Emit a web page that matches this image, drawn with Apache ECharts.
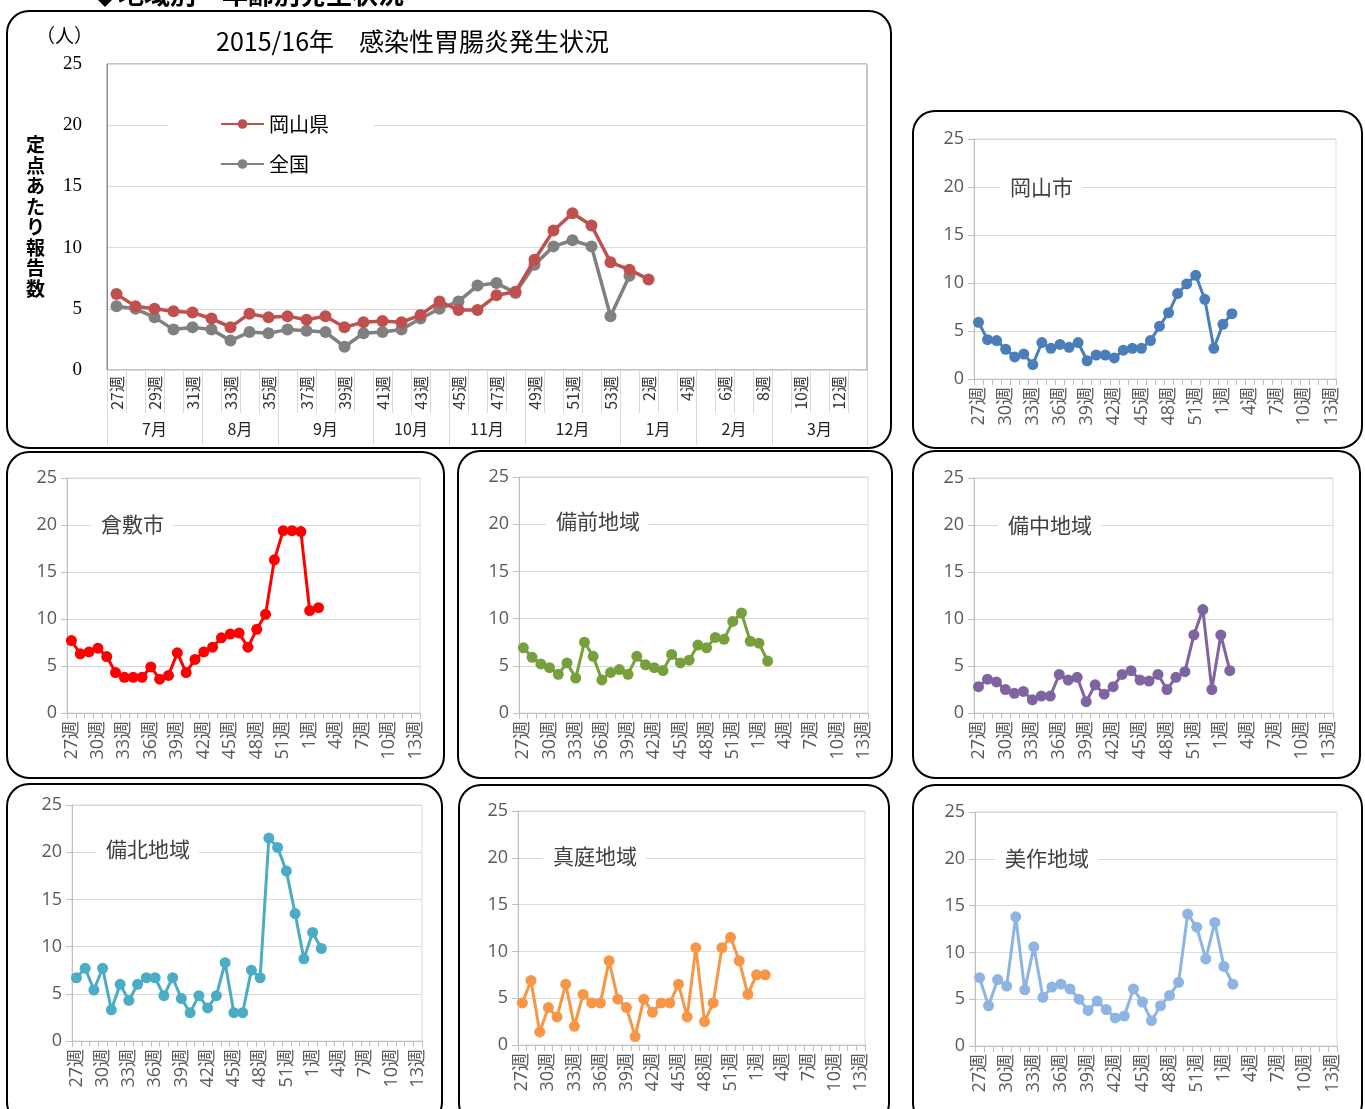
<!DOCTYPE html>
<html><head><meta charset="utf-8">
<script src="https://cdn.jsdelivr.net/npm/echarts@6/dist/echarts.min.js"></script>
<style>html,body{margin:0;padding:0;background:#fff;overflow:hidden;}#c{width:1365px;height:1109px;}</style>
</head><body><div id="c"></div><script>
// ---------- data ----------
const weeks = ['27週','28週','29週','30週','31週','32週','33週','34週','35週','36週',
  '37週','38週','39週','40週','41週','42週','43週','44週','45週','46週',
  '47週','48週','49週','50週','51週','52週','53週','1週','2週','3週',
  '4週','5週','6週','7週','8週','9週','10週','11週','12週','13週'];
const months = ['7月','8月','9月','10月','11月','12月','1月','2月','3月'];
const monthWeekCounts = [5,4,5,4,4,5,4,4,5];
const okayamaPref = [6.2,5.2,5.0,4.8,4.7,4.2,3.5,4.6,4.3,4.4,4.1,4.4,3.5,3.9,4.0,3.9,4.5,5.6,4.9,4.9,6.1,6.4,9.0,11.4,12.8,11.8,8.8,8.2,7.4];
const national = [5.2,5.0,4.3,3.3,3.5,3.3,2.4,3.1,3.0,3.3,3.2,3.1,1.9,3.0,3.1,3.3,4.2,5.0,5.6,6.9,7.1,6.3,8.6,10.1,10.6,10.1,4.4,7.7];
const okayamaCity = [5.9,4.1,4.0,3.1,2.3,2.6,1.5,3.8,3.2,3.6,3.3,3.8,1.9,2.5,2.5,2.2,3.0,3.2,3.2,4.0,5.5,6.9,8.9,9.9,10.8,8.3,3.2,5.7,6.8];
const kurashiki = [7.7,6.3,6.5,6.9,6.0,4.3,3.8,3.8,3.8,4.9,3.6,4.0,6.4,4.3,5.7,6.5,7.0,8.0,8.4,8.5,7.0,8.9,10.5,16.3,19.4,19.4,19.3,10.9,11.2];
const bizen = [6.9,5.9,5.2,4.8,4.1,5.3,3.7,7.5,6.0,3.5,4.3,4.6,4.1,6.0,5.1,4.8,4.5,6.2,5.3,5.6,7.2,6.9,8.0,7.8,9.7,10.6,7.6,7.4,5.5];
const bicchu = [2.8,3.6,3.3,2.5,2.1,2.3,1.4,1.8,1.8,4.1,3.5,3.8,1.2,3.0,2.0,2.8,4.1,4.5,3.5,3.4,4.1,2.5,3.8,4.4,8.3,11.0,2.5,8.3,4.5];
const bihoku = [6.7,7.7,5.4,7.7,3.3,6.0,4.3,6.0,6.7,6.7,4.8,6.7,4.5,3.0,4.8,3.5,4.8,8.3,3.0,3.0,7.5,6.7,21.5,20.5,18.0,13.5,8.7,11.5,9.8];
const maniwa = [4.5,6.9,1.4,4.0,3.0,6.5,2.0,5.4,4.5,4.5,9.0,4.9,4.0,0.9,4.9,3.5,4.5,4.5,6.5,3.0,10.4,2.5,4.5,10.4,11.5,9.0,5.4,7.5,7.5];
const mimasaka = [7.3,4.3,7.1,6.4,13.8,6.0,10.6,5.2,6.3,6.6,6.1,5.0,3.8,4.8,3.9,3.0,3.2,6.1,4.7,2.7,4.3,5.4,6.8,14.1,12.7,9.3,13.2,8.5,6.6];
const mainTitle = '2015/16年　感染性胃腸炎発生状況';
const headerText = '◆地域別・年齢別発生状況';
const yName = '定点あたり報告数';
const unitText = '（人）';

// ---------- month axis (half-week resolution) ----------
const monthAxisData = new Array(81).fill('');
const monthBoundaries = new Set();
let pos = 0;
months.forEach((m, i) => {
  const s = pos * 2, e = (pos + monthWeekCounts[i]) * 2;
  monthBoundaries.add(s);
  monthAxisData[(s + e) / 2] = m;
  pos += monthWeekCounts[i];
});
monthBoundaries.add(pos * 2);

// ---------- layout ----------
const panels = [
  {name:'岡山市', data: okayamaCity, color:'#4a7ebb', grid:[974,139,362,240], title:[1000,172]},
  {name:'倉敷市', data: kurashiki, color:'#ff0000', grid:[67,478,353,235], title:[91,509]},
  {name:'備前地域', data: bizen, color:'#77a03c', grid:[519,477,349,236], title:[546,506]},
  {name:'備中地域', data: bicchu, color:'#8064a2', grid:[974,478,359,235], title:[998,510]},
  {name:'備北地域', data: bihoku, color:'#4bacc6', grid:[72,805,350,236], title:[96,834]},
  {name:'真庭地域', data: maniwa, color:'#f79646', grid:[518,811,347,234], title:[543,841]},
  {name:'美作地域', data: mimasaka, color:'#8db4e2', grid:[975,812,362,234], title:[995,843]}
];
const borders = [
  [7,11,884,437],[913,111,449,337],[7,452,437,326],[458,451,434,327],[913,451,447,327],
  [7,784,435,340],[459,785,430,340],[913,785,449,340]
];
const cjk = "'Noto Sans CJK JP', sans-serif";
const latin = "'Open Sans','Noto Sans CJK JP', sans-serif";

const grids = [{left:107, top:64, width:760, height:306, show:true, borderColor:'#8c8c8c', borderWidth:1}];
const xAxes = [
  {type:'category', gridIndex:0, data:weeks, boundaryGap:true,
   axisLine:{lineStyle:{color:'#d9d9d9'}},
   axisTick:{show:true, interval:0, length:43, lineStyle:{color:'#d9d9d9'}},
   axisLabel:{interval:1, rotate:90, fontSize:16, color:'#333', fontFamily:cjk, margin:6}},
  {type:'category', gridIndex:0, data:monthAxisData, boundaryGap:false, position:'bottom', offset:43,
   axisLine:{show:false},
   axisTick:{show:true, interval:(i)=>monthBoundaries.has(i), length:32, lineStyle:{color:'#d9d9d9'}},
   axisLabel:{interval:0, fontSize:16, color:'#222', fontFamily:cjk, margin:8}}
];
const yAxes = [
  {type:'value', gridIndex:0, min:0, max:25, interval:5,
   name: yName.split('').join('\n'), nameLocation:'middle', nameRotate:0, nameGap:62,
   nameTextStyle:{fontSize:19, fontWeight:'bold', color:'#000', fontFamily:cjk, lineHeight:20.5},
   axisLine:{show:true, lineStyle:{color:'#8c8c8c'}}, axisTick:{show:false},
   axisLabel:{fontSize:19, color:'#000', fontFamily:"'Liberation Serif', serif", margin:25},
   splitLine:{lineStyle:{color:'#d9d9d9'}}}
];
const series = [
  {name:'岡山県', type:'line', xAxisIndex:0, yAxisIndex:0, data:okayamaPref, symbol:'circle', symbolSize:12, showAllSymbol:true,
   lineStyle:{width:3.5, color:'#c0504d'}, itemStyle:{color:'#c0504d'}, z:3},
  {name:'全国', type:'line', xAxisIndex:0, yAxisIndex:0, data:national, symbol:'circle', symbolSize:12, showAllSymbol:true,
   lineStyle:{width:3.5, color:'#808080'}, itemStyle:{color:'#808080'}, z:2}
];
const titles = [{text: mainTitle, left:211, top:24, textStyle:{fontSize:25, fontWeight:'normal', color:'#000', fontFamily:cjk}}];

panels.forEach((p, i) => {
  const [l,t,w,h] = p.grid;
  grids.push({left:l, top:t, width:w, height:h, show:true, borderColor:'#d9d9d9', borderWidth:1});
  xAxes.push({type:'category', gridIndex:i+1, data:weeks, boundaryGap:true,
    axisLine:{lineStyle:{color:'#bfbfbf'}},
    axisTick:{show:true, interval:0, length:6, lineStyle:{color:'#bfbfbf'}},
    axisLabel:{interval:2, rotate:90, fontSize:18, color:'#595959', fontFamily:latin, margin:8}});
  yAxes.push({type:'value', gridIndex:i+1, min:0, max:25, interval:5,
    axisLine:{show:true, lineStyle:{color:'#bfbfbf'}},
    axisTick:{show:true, length:6, lineStyle:{color:'#bfbfbf'}},
    axisLabel:{fontSize:18, color:'#595959', fontFamily:latin, margin:10},
    splitLine:{lineStyle:{color:'#d9d9d9'}}});
  series.push({name:p.name, type:'line', xAxisIndex:i+2, yAxisIndex:i+1, data:p.data, symbol:'circle', symbolSize:11,
    showAllSymbol:true, lineStyle:{width:3, color:p.color}, itemStyle:{color:p.color}});
  titles.push({text:p.name, left:p.title[0], top:p.title[1], padding:[2,9,2,10], backgroundColor:'#fff',
    textStyle:{fontSize:21, fontWeight:'normal', color:'#404040', fontFamily:cjk, lineHeight:26}});
});

const graphics = borders.map(b => ({type:'rect', shape:{x:b[0], y:b[1], width:b[2], height:b[3], r:22},
  style:{fill:'none', stroke:'#000', lineWidth:2}, silent:true}));
graphics.push({type:'text', x:36, y:36, style:{text:unitText, fontSize:19, fontFamily:'Noto Sans CJK JP', fill:'#000', textVerticalAlign:'middle'}});
graphics.push({type:'text', x:92, y:7, style:{text:headerText, fontSize:26, fontWeight:'bold', fontFamily:'Noto Sans CJK JP', fill:'#000', textVerticalAlign:'bottom'}});

const chart = echarts.init(document.getElementById('c'), null, {renderer:'canvas'});
chart.setOption({
  animation:false,
  backgroundColor:'#fff',
  title: titles,
  legend:{data:['岡山県','全国'], left:168, top:105, orient:'vertical', padding:[9,45,12,52],
    backgroundColor:'#fff', itemWidth:43, itemHeight:12, itemGap:20,
    textStyle:{fontSize:20, color:'#000', fontFamily:cjk, lineHeight:20}},
  grid: grids, xAxis: xAxes, yAxis: yAxes, series: series, graphic: graphics
});
</script></body></html>
